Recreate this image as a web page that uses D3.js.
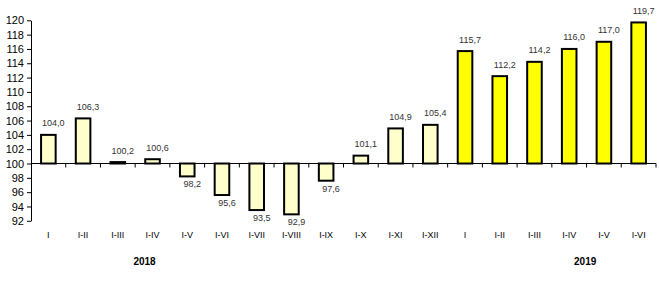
<!DOCTYPE html>
<html>
<head>
<meta charset="utf-8">
<script src="https://cdn.jsdelivr.net/npm/d3@7"></script>
<style>
  body { margin: 0; background: #fff; }
  svg { display: block; font-family: Arial, "Liberation Sans", sans-serif; }
</style>
</head>
<body>
<div id="chart"></div>
<script>
// Category labels (months cumulative)
const categories = ["I", "I-II", "I-III", "I-IV", "I-V", "I-VI", "I-VII", "I-VIII", "I-IX", "I-X", "I-XI", "I-XII",
  "I ", "I-II ", "I-III ", "I-IV ", "I-V ", "I-VI "];
const years = ["2018", "2018", "2018", "2018", "2018", "2018", "2018", "2018", "2018", "2018", "2018", "2018",
  "2019", "2019", "2019", "2019", "2019", "2019"];
const values = [104.0, 106.3, 100.2, 100.6, 98.2, 95.6, 93.5, 92.9, 97.6, 101.1, 104.9, 105.4,
  115.7, 112.2, 114.2, 116.0, 117.0, 119.7];
const yTicks = [92, 94, 96, 98, 100, 102, 104, 106, 108, 110, 112, 114, 116, 118, 120];
const yearLabels = ["2018", "2019"];
const baseValue = 100;

const W = 659, H = 303;
const plot = { left: 31, right: 656, top: 20.3, bottom: 220.8 };

const svg = d3.select("#chart").append("svg")
  .attr("width", W)
  .attr("height", H);

const x = d3.scaleBand()
  .domain(categories)
  .range([plot.left, plot.right])
  .paddingInner(0.58)
  .paddingOuter(0.29);

const y = d3.scaleLinear()
  .domain([92, 120])
  .range([plot.bottom, plot.top]);

const fillFor = (yr) => (yr === "2018" ? "#ffffcc" : "#ffff00");

// Bars
svg.selectAll(".bar")
  .data(values)
  .enter()
  .append("rect")
  .attr("class", "bar")
  .attr("x", (d, i) => x(categories[i]))
  .attr("y", (d) => y(Math.max(d, baseValue)))
  .attr("width", x.bandwidth())
  .attr("height", (d) => Math.abs(y(d) - y(baseValue)))
  .attr("fill", (d, i) => fillFor(years[i]))
  .attr("stroke", "#000")
  .attr("stroke-width", 2);

// Y axis
const yAxis = svg.append("g")
  .attr("transform", `translate(${plot.left},0)`)
  .call(d3.axisLeft(y).tickValues(yTicks).tickSize(4).tickSizeOuter(0).tickPadding(3));
yAxis.select(".domain").attr("stroke", "#000");
yAxis.selectAll(".tick line").attr("stroke", "#000");
yAxis.selectAll(".tick text")
  .style("font-size", "11px")
  .attr("fill", "#000");

// X axis at 100 baseline (ticks between categories)
const step = x.step();
const gap = step * x.paddingInner() / 2;
const xAxis = svg.append("g")
  .attr("transform", `translate(0,${y(baseValue)})`);
xAxis.append("line")
  .attr("x1", plot.left).attr("x2", plot.right)
  .attr("stroke", "#000");
xAxis.selectAll(".sep")
  .data(categories)
  .enter()
  .append("line")
  .attr("class", "sep")
  .attr("x1", (d) => x(d) + x.bandwidth() + gap)
  .attr("x2", (d) => x(d) + x.bandwidth() + gap)
  .attr("y1", 0)
  .attr("y2", 4)
  .attr("stroke", "#000");

// Category labels at bottom
svg.selectAll(".cat")
  .data(categories)
  .enter()
  .append("text")
  .attr("class", "cat")
  .attr("x", (d) => x(d) + x.bandwidth() / 2)
  .attr("y", 238)
  .attr("text-anchor", "middle")
  .style("font-size", "9px")
  .attr("fill", "#000")
  .text((d) => d.trim());

// Value labels
svg.selectAll(".val")
  .data(values)
  .enter()
  .append("text")
  .attr("class", "val")
  .attr("x", (d, i) => x(categories[i]) + x.bandwidth() / 2 + 5)
  .attr("y", (d) => d >= baseValue ? y(d) - 8.5 : y(d) + 11)
  .attr("text-anchor", "middle")
  .style("font-size", "9px")
  .attr("fill", "#333")
  .text((d) => d.toFixed(1).replace(".", ","));

// Year labels
const yearPos = {
  "2018": x("I-IV") + x.bandwidth() / 2 - 8,
  "2019": x("I-IV ") + x.bandwidth() / 2 + 16
};
svg.selectAll(".year")
  .data(yearLabels)
  .enter()
  .append("text")
  .attr("class", "year")
  .attr("x", (d) => yearPos[d])
  .attr("y", 265)
  .attr("text-anchor", "middle")
  .style("font-size", "10px")
  .style("font-weight", "bold")
  .attr("fill", "#000")
  .text((d) => d);
</script>
</body>
</html>
